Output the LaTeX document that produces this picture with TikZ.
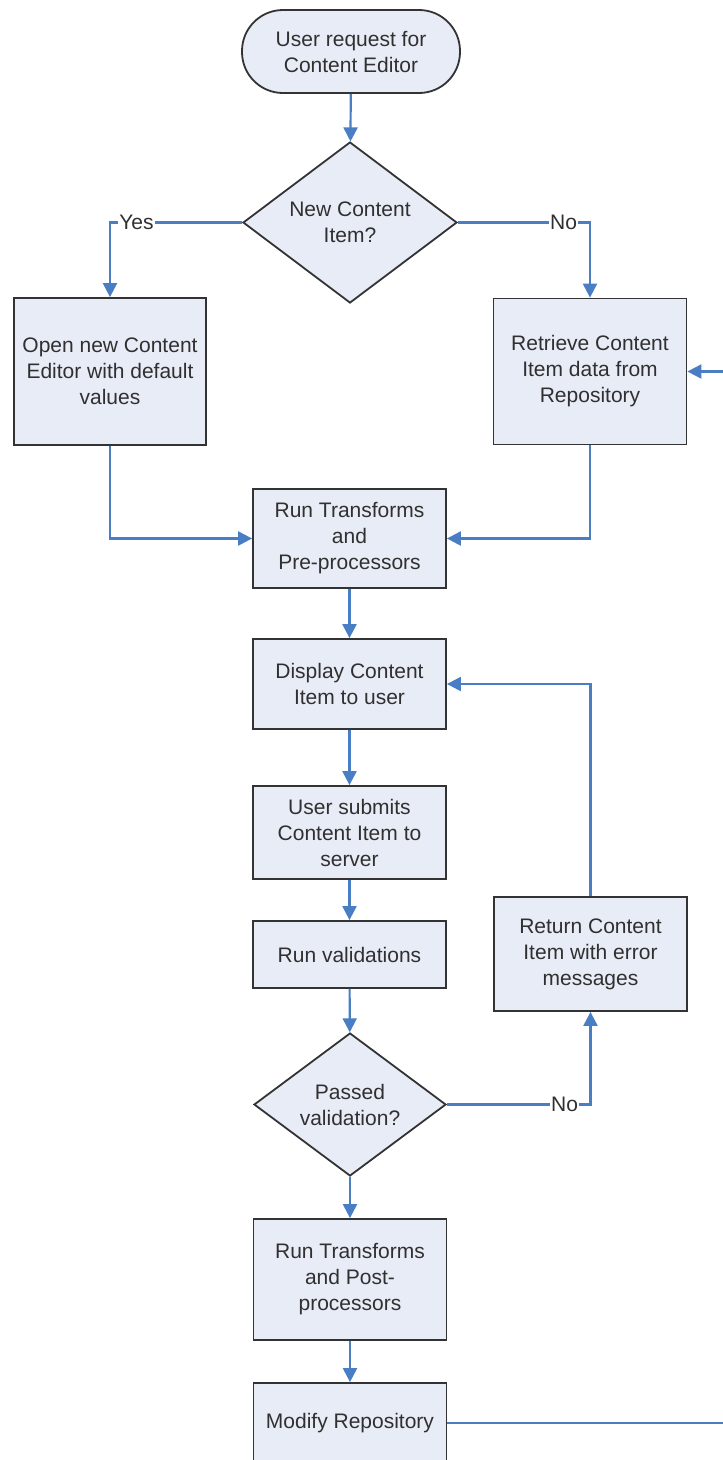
\documentclass[tikz,border=0pt]{standalone}
\usepackage{fontspec}
\setmainfont{Liberation Sans}
\usetikzlibrary{shapes.geometric,arrows.meta}
\definecolor{flowblue}{HTML}{4A7EC4}
\definecolor{boxfill}{HTML}{E8ECF7}
\definecolor{boxline}{HTML}{333333}
\definecolor{txt}{HTML}{303030}
\begin{document}
\begin{tikzpicture}[x=1pt,y=-1pt,
  every node/.style={font=\fontsize{21}{26}\selectfont, text=txt},
  procbox/.style={draw=boxline, line width=1.8pt, fill=boxfill, rectangle, inner sep=0pt, align=center},
  termbox/.style={draw=boxline, line width=1.8pt, fill=boxfill, rectangle, rounded corners=41pt, inner sep=0pt, align=center, minimum width=218pt, minimum height=83pt},
  decbox/.style={draw=boxline, line width=1.8pt, fill=boxfill, diamond, inner sep=0pt, align=center},
  flow/.style={draw=flowblue, line width=2.2pt, -{Triangle[width=14pt,length=14pt]}},
  flowline/.style={draw=flowblue, line width=2.2pt},
  lbl/.style={fill=white, inner sep=1pt}
]
\useasboundingbox (0,0) rectangle (723,1460);
\fill[white] (0,0) rectangle (723,1460);
\clip (0,0) rectangle (723,1460);

\node[termbox] (start) at (351,51.5) {User request for\\Content Editor};
\node[decbox, minimum width=214pt, minimum height=161pt, aspect=1.33] (newq) at (350,222.5) {New Content\\Item?};
\node[procbox, minimum width=192pt, minimum height=147pt] (open) at (110,371.5) {Open new Content\\Editor with default\\values};
\node[procbox, minimum width=193pt, minimum height=146pt] (retr) at (590,371.5) {Retrieve Content\\Item data from\\Repository};
\node[procbox, minimum width=193pt, minimum height=99pt] (pre) at (349.5,538.5) {Run Transforms\\and\\Pre-processors};
\node[procbox, minimum width=193pt, minimum height=90pt] (disp) at (349.5,684) {Display Content\\Item to user};
\node[procbox, minimum width=193pt, minimum height=93pt] (subm) at (349.5,832.5) {User submits\\Content Item to\\server};
\node[procbox, minimum width=193pt, minimum height=67pt] (valid) at (349.5,954.5) {Run validations};
\node[procbox, minimum width=193pt, minimum height=114pt] (ret) at (590.5,954) {Return Content\\Item with error\\messages};
\node[decbox, minimum width=192pt, minimum height=143pt, aspect=1.34] (passq) at (350,1104.5) {Passed\\validation?};
\node[procbox, minimum width=193pt, minimum height=121pt] (post) at (350,1279.5) {Run Transforms\\and Post-\\processors};
\node[procbox, minimum width=193pt, minimum height=80pt] (modify) at (350,1423) {Modify Repository};
\coordinate (loop) at (745,1423);

\draw[flow] (start) -- (newq);
\draw[flow] (newq.west) -| node[lbl, pos=0.4] {Yes} (open.north);
\draw[flow] (newq.east) -| node[lbl, pos=0.4] {No} (retr.north);
\draw[flow] (open.south) |- (pre.west);
\draw[flow] (retr.south) |- (pre.east);
\draw[flow] (pre) -- (disp);
\draw[flow] (disp) -- (subm);
\draw[flow] (subm) -- (valid);
\draw[flow] (valid) -- (passq);
\draw[flow] (passq) -- (post);
\draw[flow] (post) -- (modify);
\draw[flow] (passq.east) -| node[lbl, pos=0.41] {No} (ret.south);
\draw[flow] (ret.north) |- (disp.east);
\draw[flowline] (modify.east) -- (loop);
\draw[flow] (loop) |- (retr.east);
\end{tikzpicture}
\end{document}
